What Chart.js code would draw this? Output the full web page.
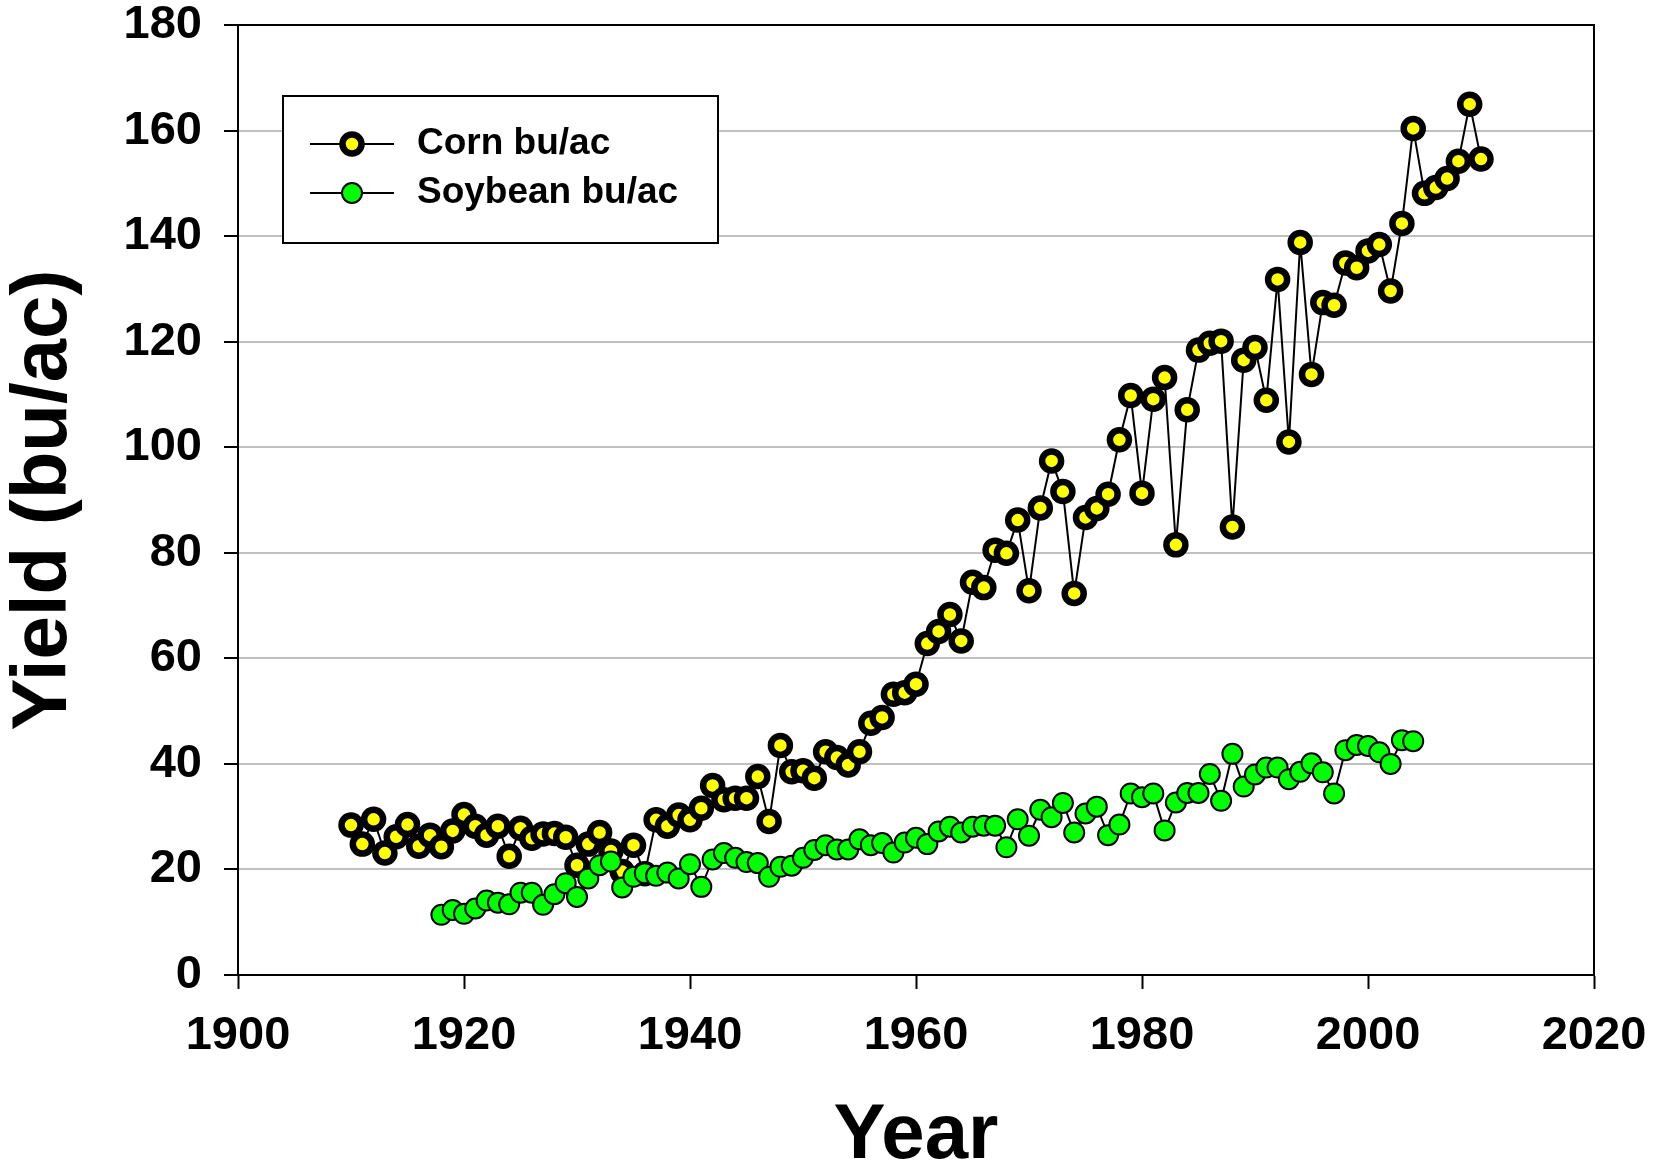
<!DOCTYPE html>
<html>
<head>
<meta charset="utf-8">
<title>Corn and Soybean Yield</title>
<script src="https://cdn.jsdelivr.net/npm/chart.js@4.4.1/dist/chart.umd.min.js"></script>
<style>
  html, body { margin: 0; padding: 0; background: #fff; }
  #wrap { width: 1661px; height: 1172px; }
</style>
</head>
<body>
<div id="wrap"><canvas id="yield_canvas" width="1661" height="1172"></canvas></div>
<script>
//DATA
var cornFirstYear = 1910; //corn values run one per year from here
var cornYield = [
    28.4, 24.8, 29.5, 23.1, 26.2, 28.5, 24.4, 26.5, 24.3, 27.3,   //1910-1919
    30.4, 28.2, 26.5, 28.2, 22.5, 27.8, 25.9, 26.7, 26.8, 26.1,   //1920-1929
    20.8, 24.8, 27.0, 23.5, 19.6, 24.6, 19.2, 29.4, 28.2, 30.3,   //1930-1939
    29.4, 31.6, 35.9, 33.2, 33.5, 33.5, 37.6, 29.1, 43.5, 38.5,   //1940-1949
    38.7, 37.3, 42.3, 41.2, 39.8, 42.3, 47.7, 48.8, 53.2, 53.5,   //1950-1959
    55.1, 62.8, 65.1, 68.3, 63.3, 74.4, 73.4, 80.5, 79.9, 86.2,   //1960-1969
    72.8, 88.5, 97.4, 91.6, 72.3, 86.7, 88.4, 91.1, 101.4, 109.8, //1970-1979
    91.3, 109.1, 113.2, 81.5, 107.1, 118.4, 119.7, 120.1, 84.9, 116.5, //1980-1989
    118.9, 108.9, 131.8, 101.0, 138.8, 113.8, 127.4, 126.9, 134.9, 134.0, //1990-1999
    137.2, 138.4, 129.6, 142.4, 160.4, 148.1, 149.2, 150.9, 154.2, 165.0, //2000-2009
    154.6 //2010
];

var soyFirstYear = 1918;
var soyYield = [
    11.4, 12.3,                                                   //1918-1919
    11.6, 12.6, 14.1, 13.7, 13.4, 15.6, 15.6, 13.3, 15.3, 17.4,   //1920-1929
    14.8, 18.3, 20.8, 21.5, 16.6, 18.6, 19.3, 18.8, 19.4, 18.3,   //1930-1939
    21.0, 16.7, 21.9, 23.1, 22.2, 21.4, 21.2, 18.6, 20.5, 20.7,   //1940-1949
    22.2, 23.7, 24.6, 23.8, 23.8, 25.7, 24.6, 25.0, 23.2, 25.1,   //1950-1959
    26.0, 24.8, 27.2, 28.1, 27.0, 28.1, 28.3, 28.3, 24.2, 29.5,   //1960-1969
    26.4, 31.3, 29.9, 32.6, 27.0, 30.6, 31.9, 26.5, 28.5, 34.4,   //1970-1979
    33.7, 34.4, 27.4, 32.7, 34.5, 34.5, 38.1, 33.0, 41.9, 35.7,   //1980-1989
    38.0, 39.3, 39.3, 37.1, 38.5, 40.1, 38.4, 34.4, 42.6, 43.6,   //1990-1999
    43.4, 42.2, 40.0, 44.5, 44.3                                  //2000-2004
];

var seriesNames = ["Corn bu/ac", "Soybean bu/ac"];
var xTicks = [1900, 1920, 1940, 1960, 1980, 2000, 2020];
var yTicks = [0, 20, 40, 60, 80, 100, 120, 140, 160, 180];

var FONT = "'Liberation Sans', Arial, Helvetica, sans-serif";

function toPoints(firstYear, values) {
    var pts = [];
    for (var i = 0; i < values.length; i++)
        pts.push({ x: firstYear + i, y: values[i] });
    return pts;
}

//box round the plot (top and right edges)
var frameLines = {
    id: 'frameLines',
    beforeDatasetsDraw: function(chart) {
        var ctx = chart.ctx, a = chart.chartArea;
        ctx.save();
        ctx.strokeStyle = '#000';
        ctx.lineWidth = 2;
        ctx.beginPath();
        ctx.moveTo(a.left, a.top);
        ctx.lineTo(a.right, a.top);
        ctx.lineTo(a.right, a.bottom);
        ctx.stroke();
        ctx.restore();
    }
};

//legend box with line-marker-line symbols, inside the plot
var boxLegend = {
    id: 'boxLegend',
    afterDraw: function(chart) {
        var ctx = chart.ctx;
        var sets = chart.data.datasets;
        var box = { x: 283, y: 96, w: 435, h: 147 };
        ctx.save();
        ctx.fillStyle = '#fff';
        ctx.fillRect(box.x, box.y, box.w, box.h);
        ctx.strokeStyle = '#000';
        ctx.lineWidth = 2;
        ctx.strokeRect(box.x, box.y, box.w, box.h);
        var rows = [144, 193];
        for (var i = 0; i < sets.length; i++) {
            var ds = sets[i];
            var y = rows[i];
            ctx.strokeStyle = '#000';
            ctx.lineWidth = 2;
            ctx.beginPath();
            ctx.moveTo(310, y);
            ctx.lineTo(394, y);
            ctx.stroke();
            ctx.beginPath();
            ctx.arc(352, y, ds.pointRadius, 0, Math.PI * 2);
            ctx.fillStyle = ds.pointBackgroundColor;
            ctx.fill();
            ctx.lineWidth = ds.pointBorderWidth;
            ctx.strokeStyle = ds.pointBorderColor;
            ctx.stroke();
            ctx.fillStyle = '#000';
            ctx.font = 'bold 37px ' + FONT;
            ctx.textAlign = 'left';
            ctx.textBaseline = 'middle';
            ctx.fillText(ds.label, 417, y);
        }
        ctx.restore();
    }
};

var ctx = document.getElementById('yield_canvas').getContext('2d');
var yieldChart = new Chart(ctx, {
    type: 'line',
    data: {
        datasets: [{
            label: seriesNames[0],
            data: toPoints(cornFirstYear, cornYield),
            borderColor: '#000',
            borderWidth: 2,
            pointRadius: 9.5,
            pointBorderWidth: 6.5,
            pointBackgroundColor: '#ffff00',
            pointBorderColor: '#000',
            tension: 0,
            order: 1
        }, {
            label: seriesNames[1],
            data: toPoints(soyFirstYear, soyYield),
            borderColor: '#000',
            borderWidth: 2,
            pointRadius: 10,
            pointBorderWidth: 2,
            pointBackgroundColor: '#00ff00',
            pointBorderColor: '#000',
            tension: 0,
            order: 0
        }]
    },
    options: {
        responsive: false,
        animation: false,
        layout: { padding: { left: 0, top: 25, right: 67, bottom: 0 } },
        plugins: {
            legend: { display: false },
            tooltip: { enabled: false }
        },
        scales: {
            x: {
                type: 'linear',
                min: xTicks[0],
                max: xTicks[xTicks.length - 1],
                afterBuildTicks: function(scale) {
                    scale.ticks = xTicks.map(function(v) { return { value: v }; });
                },
                afterFit: function(scale) {
                    scale.height = 197;
                    scale.paddingLeft = 0;
                    scale.paddingRight = 0;
                },
                grid: {
                    drawOnChartArea: false,
                    drawTicks: true,
                    tickLength: 14,
                    tickWidth: 2,
                    tickColor: '#000'
                },
                border: { color: '#000', width: 2 },
                ticks: {
                    autoSkip: false,
                    maxRotation: 0,
                    padding: 19,
                    color: '#000',
                    font: { family: FONT, size: 47, weight: 'bold' },
                    callback: function(v) { return String(v); }
                },
                title: {
                    display: true,
                    text: 'Year',
                    color: '#000',
                    padding: 0,
                    font: { family: FONT, size: 78, weight: 'bold', lineHeight: 0.9 }
                }
            },
            y: {
                min: yTicks[0],
                max: yTicks[yTicks.length - 1],
                afterBuildTicks: function(scale) {
                    scale.ticks = yTicks.map(function(v) { return { value: v }; });
                },
                afterFit: function(scale) {
                    scale.width = 238;
                    scale.paddingTop = 0;
                    scale.paddingBottom = 0;
                },
                grid: {
                    color: '#c0c0c0',
                    lineWidth: 2,
                    drawTicks: true,
                    tickLength: 14,
                    tickWidth: 2,
                    tickColor: '#000'
                },
                border: { color: '#000', width: 2 },
                ticks: {
                    autoSkip: false,
                    padding: 22,
                    color: '#000',
                    font: { family: FONT, size: 47, weight: 'bold' }
                },
                title: {
                    display: true,
                    text: 'Yield (bu/ac)',
                    color: '#000',
                    padding: { top: 2, bottom: 0 },
                    font: { family: FONT, size: 78, weight: 'bold', lineHeight: 1.1 }
                }
            }
        }
    },
    plugins: [frameLines, boxLegend]
});
</script>
</body>
</html>
